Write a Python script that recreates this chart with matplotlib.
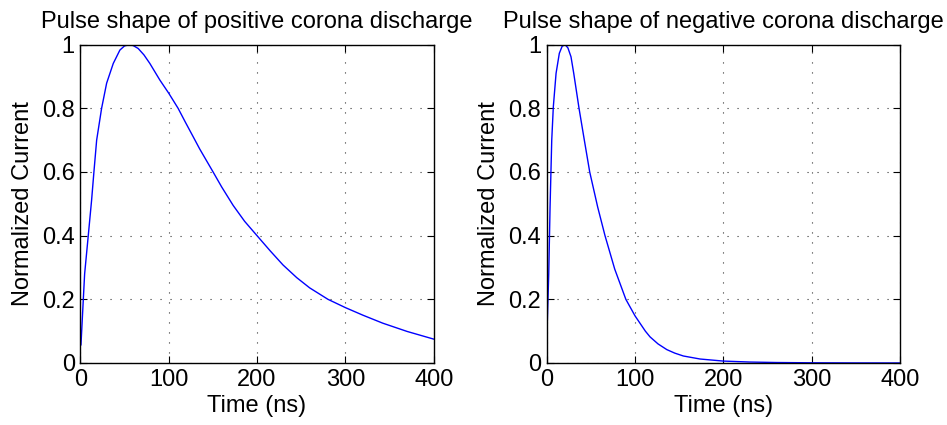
import numpy as np
import matplotlib
matplotlib.use("Agg")
import matplotlib.pyplot as plt

# ---------------- data ----------------
t_pos = [0.75, 3.4, 4.9, 9, 12.8, 15.4, 18.5, 24.1, 29.8, 37.3, 44.8, 50,
         55.4, 60, 65.5, 72, 78.7, 90, 100.2, 110.7, 119, 127.7, 135.2, 150.3,
         160, 173, 186, 200, 215, 229.4, 245, 259.6, 280.3, 300, 320, 342.4,
         370, 400]
i_pos = [0.057, 0.2, 0.28, 0.4, 0.512, 0.6, 0.7, 0.8, 0.879, 0.941, 0.983,
         0.996, 1.0, 0.997, 0.988, 0.968, 0.941, 0.889, 0.847, 0.8, 0.756,
         0.711, 0.672, 0.6, 0.553, 0.495, 0.445, 0.4, 0.352, 0.308, 0.268,
         0.236, 0.2, 0.174, 0.15, 0.125, 0.099, 0.075]

t_neg = [0.75, 2.3, 3.8, 5.7, 7.5, 10.6, 14.3, 17.5, 20.8, 24, 27.5, 30.6,
         36.6, 42.6, 48.7, 57.7, 66, 77, 89.6, 100, 111.7, 117, 126, 136,
         145, 154.7, 173.6, 200, 230, 260, 300, 350, 400]
i_neg = [0.135, 0.28, 0.49, 0.7, 0.805, 0.91, 0.973, 0.995, 1.0, 0.99, 0.962,
         0.91, 0.8, 0.7, 0.6, 0.49, 0.4, 0.295, 0.2, 0.148, 0.1, 0.082, 0.06,
         0.042, 0.031, 0.022, 0.0125, 0.006, 0.003, 0.0015, 0.0006, 0.0002,
         0.0001]

titles = ["Pulse shape of positive corona discharge",
          "Pulse shape of negative corona discharge"]
xticks = [0, 100, 200, 300, 400]
yticks = [0, 0.2, 0.4, 0.6, 0.8, 1]
ytick_labels = ["0", "0.2", "0.4", "0.6", "0.8", "1"]

# ---------------- plot ----------------
plt.rcParams['font.family'] = ['Liberation Sans', 'DejaVu Sans']
plt.rcParams['font.size'] = 17

fig = plt.figure(figsize=(9.47, 4.25), dpi=100)
ax1 = fig.add_axes([0.0848, 0.1459, 0.3732, 0.749])
ax2 = fig.add_axes([0.5773, 0.1459, 0.3731, 0.749])

for ax, t, i, title in [(ax1, t_pos, i_pos, titles[0]),
                        (ax2, t_neg, i_neg, titles[1])]:
    ax.plot(t, i, color=(0, 0, 1), linewidth=1.0)
    ax.set_xlim(0, 400)
    ax.set_ylim(0, 1)
    ax.set_xticks(xticks)
    ax.set_yticks(yticks)
    ax.set_yticklabels(ytick_labels)
    ax.set_title(title, fontsize=17, pad=12)
    ax.set_xlabel("Time (ns)", labelpad=3)
    ax.set_ylabel("Normalized Current", labelpad=6)
    ax.grid(True, color='k', linestyle=(0, (1, 8)), linewidth=0.8, alpha=0.8)
    ax.tick_params(direction='in', top=True, right=True, length=5, width=0.8,
                   labelsize=17, pad=4)
    for sp in ax.spines.values():
        sp.set_linewidth(1.0)

fig.savefig("out.png", dpi=100)
